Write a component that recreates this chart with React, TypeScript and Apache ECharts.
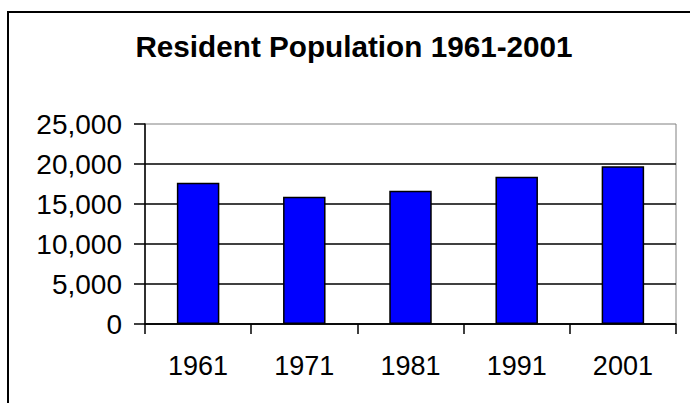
import React, { useEffect, useRef } from "react";
import * as echarts from "echarts";

const categories = ["1961", "1971", "1981", "1991", "2001"];
const population = [17660, 15910, 16660, 18410, 19710];
const titleText = "Resident Population 1961-2001";

export default function App() {
  const ref = useRef<HTMLDivElement>(null);
  useEffect(() => {
    if (!ref.current) return;
    const chart = echarts.init(ref.current, null, { renderer: "svg" });
    const font = "'Liberation Sans', Arial, sans-serif";
    chart.setOption({
      animation: false,
      backgroundColor: "#ffffff",
      graphic: [
        {
          type: "rect",
          shape: { x: 8, y: 12, width: 700, height: 420 },
          style: { fill: "none", stroke: "#000000", lineWidth: 2 },
          silent: true,
        },
        {
          type: "text",
          x: 354,
          y: 46,
          style: {
            text: titleText,
            fontFamily: font,
            fontWeight: "bold",
            fontSize: 29.7,
            fill: "#000000",
            textAlign: "center",
            textVerticalAlign: "middle",
          },
        },
      ],
      grid: {
        left: 145,
        right: 14,
        top: 124,
        bottom: 79,
        show: true,
        borderColor: "#808080",
        borderWidth: 1,
        backgroundColor: "transparent",
      },
      xAxis: {
        type: "category",
        data: categories,
        axisLine: { lineStyle: { color: "#000000", width: 1.5 } },
        axisTick: { show: true, inside: false, length: 10, lineStyle: { color: "#000000", width: 1.5 } },
        axisLabel: { fontFamily: font, fontSize: 27, color: "#000000", margin: 28 },
        splitLine: { show: false },
      },
      yAxis: {
        type: "value",
        min: 0,
        max: 25000,
        interval: 5000,
        axisLine: { show: true, lineStyle: { color: "#000000", width: 1.5 } },
        axisTick: { show: true, inside: false, length: 11, lineStyle: { color: "#000000", width: 1.5 } },
        axisLabel: {
          fontFamily: font,
          fontSize: 28,
          color: "#000000",
          margin: 23,
          formatter: (v: number) => v.toLocaleString("en-US"),
        },
        splitLine: { show: true, showMaxLine: false, lineStyle: { color: "#000000", width: 1.5 } },
      },
      series: [
        {
          type: "bar",
          data: population,
          barWidth: "40%",
          itemStyle: { color: "#0000FF", borderColor: "#000000", borderWidth: 1.5 },
        },
      ],
    });
    return () => chart.dispose();
  }, []);
  return (
    <div
      ref={ref}
      style={{ position: "absolute", left: 0, top: 0, width: 690, height: 403 }}
    />
  );
}
